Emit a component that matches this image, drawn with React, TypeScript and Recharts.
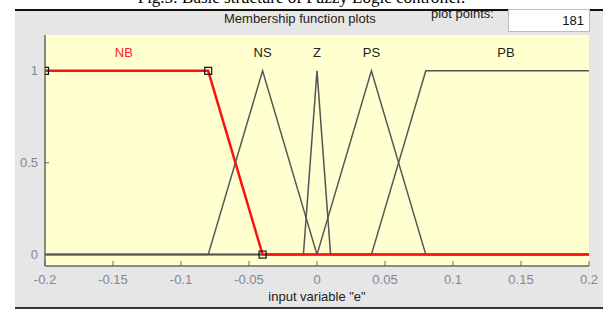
import { CartesianGrid, Line, LineChart, ReferenceDot, XAxis, YAxis } from "recharts";

const xTicks = [-0.2, -0.15, -0.1, -0.05, 0, 0.05, 0.1, 0.15, 0.2];
const yTicks = [0, 0.5, 1];

// membership functions of input "e" (breakpoints)
const nbX = [-0.2, -0.08, -0.04, 0.2];
const nbY = [1, 1, 0, 0];
const nsX = [-0.2, -0.08, -0.04, 0, 0.2];
const nsY = [0, 0, 1, 0, 0];
const zX = [-0.2, -0.01, 0, 0.01, 0.2];
const zY = [0, 0, 1, 0, 0];
const psX = [-0.2, 0, 0.04, 0.08, 0.2];
const psY = [0, 0, 1, 0, 0];
const pbX = [-0.2, 0.04, 0.08, 0.2];
const pbY = [0, 0, 1, 1];

const mfNames = ["NB", "NS", "Z", "PS", "PB"];
const mfLabelX = [-0.142, -0.04, 0, 0.04, 0.139];
const labelY = 1.1;

const toPoints = (xs: number[], ys: number[]) => xs.map((x, i) => ({ x, y: ys[i] }));

const grayMfs = [
  toPoints(nsX, nsY),
  toPoints(zX, zY),
  toPoints(psX, psY),
  toPoints(pbX, pbY),
];
const nbData = toPoints(nbX, nbY);

const FONT = "'Liberation Sans', Arial, sans-serif";
const tickStyle = { fontSize: 13, fill: "#7d8899", fontFamily: FONT };

const EmptyTick = () => <g />;

const SquareDot = (props: any) => {
  const { cx, cy, index } = props;
  if (index === nbX.length - 1) return <g key={index} />;
  return (
    <rect
      key={index}
      x={cx - 3.5}
      y={cy - 3.5}
      width={7}
      height={7}
      fill="none"
      stroke="#111"
      strokeWidth={1.2}
    />
  );
};

export default function App() {
  return (
    <div
      style={{
        position: "absolute",
        left: 0,
        top: 0,
        width: 603,
        height: 310,
        background: "#fff",
        overflow: "hidden",
      }}
    >
      <div
        style={{
          position: "absolute",
          left: 0,
          width: 603,
          top: -12,
          textAlign: "center",
          fontFamily: "'Liberation Serif', 'Times New Roman', serif",
          fontSize: 17,
          color: "#000",
        }}
      >
        Fig.5: Basic structure of Fuzzy Logic controller.
      </div>
      <div
        style={{
          position: "absolute",
          left: 15,
          top: 11,
          width: 588,
          height: 296,
          background: "#e6e6e6",
          borderBottom: "2px solid #333",
        }}
      />
      <div
        style={{
          position: "absolute",
          left: 431,
          top: 6,
          fontFamily: FONT,
          fontSize: 13,
          color: "#222",
        }}
      >
        plot points:
      </div>
      <div style={{ position: "absolute", left: 15, top: 9, width: 588, height: 2, background: "#111" }} />
      <div
        style={{
          position: "absolute",
          left: 224,
          top: 11,
          fontFamily: FONT,
          fontSize: 13,
          color: "#222",
        }}
      >
        Membership function plots
      </div>
      <div
        style={{
          position: "absolute",
          left: 508,
          top: 9,
          width: 82,
          height: 23,
          background: "#fff",
          border: "1px solid #bbb",
          boxSizing: "border-box",
          textAlign: "right",
          paddingRight: 5,
          lineHeight: "22px",
          fontFamily: FONT,
          fontSize: 13,
          color: "#111",
        }}
      >
        181
      </div>
      <div
        style={{
          position: "absolute",
          left: 0,
          width: 634,
          top: 289,
          textAlign: "center",
          fontFamily: FONT,
          fontSize: 13,
          color: "#222",
        }}
      >
        input variable "e"
      </div>
      <div style={{ position: "absolute", left: 0, top: 0 }}>
        <LineChart width={603} height={310} margin={{ top: 35, right: 14, bottom: 0, left: 15 }}>
          <CartesianGrid fill="#ffffd0" horizontal={false} vertical={false} />
          <XAxis
            dataKey="x"
            type="number"
            domain={[-0.2, 0.2]}
            ticks={xTicks}
            interval={0}
            allowDataOverflow
            height={44}
            axisLine={{ stroke: "#666", strokeWidth: 1.5 }}
            tickLine={{ stroke: "#666" }}
            tickSize={-5}
            tickMargin={14}
            tick={tickStyle}
          />
          <XAxis
            xAxisId="t"
            orientation="top"
            dataKey="x"
            type="number"
            domain={[-0.2, 0.2]}
            ticks={xTicks}
            interval={0}
            allowDataOverflow
            height={0}
            axisLine={{ stroke: "#888", strokeWidth: 1.5 }}
            tickLine={{ stroke: "#666" }}
            tickSize={-4}
            tick={<EmptyTick />}
          />
          <YAxis
            type="number"
            domain={[-0.062, 1.195]}
            ticks={yTicks}
            interval={0}
            allowDataOverflow
            width={30}
            axisLine={{ stroke: "#666", strokeWidth: 1.5 }}
            tickLine={{ stroke: "#666" }}
            tickSize={-4}
            tickMargin={11}
            tick={tickStyle}
          />
          <YAxis
            yAxisId="r"
            orientation="right"
            type="number"
            domain={[-0.062, 1.195]}
            ticks={yTicks}
            interval={0}
            allowDataOverflow
            width={0}
            axisLine={{ stroke: "#888", strokeWidth: 1.5 }}
            tickLine={{ stroke: "#666" }}
            tickSize={-4}
            tick={<EmptyTick />}
          />
          {grayMfs.map((d, i) => (
            <Line
              key={i}
              data={d}
              dataKey="y"
              type="linear"
              stroke="#555"
              strokeWidth={1.5}
              dot={false}
              isAnimationActive={false}
            />
          ))}
          <Line
            data={nbData}
            dataKey="y"
            type="linear"
            stroke="#ff1010"
            strokeWidth={2.5}
            dot={SquareDot}
            isAnimationActive={false}
          />
          {mfNames.map((name, i) => (
            <ReferenceDot
              key={name}
              x={mfLabelX[i]}
              y={labelY}
              r={0}
              fill="none"
              stroke="none"
              label={{
                value: name,
                position: "center",
                fontSize: 13,
                fontFamily: FONT,
                fill: i === 0 ? "#ff2020" : "#222",
              }}
            />
          ))}
        </LineChart>
      </div>
    </div>
  );
}
